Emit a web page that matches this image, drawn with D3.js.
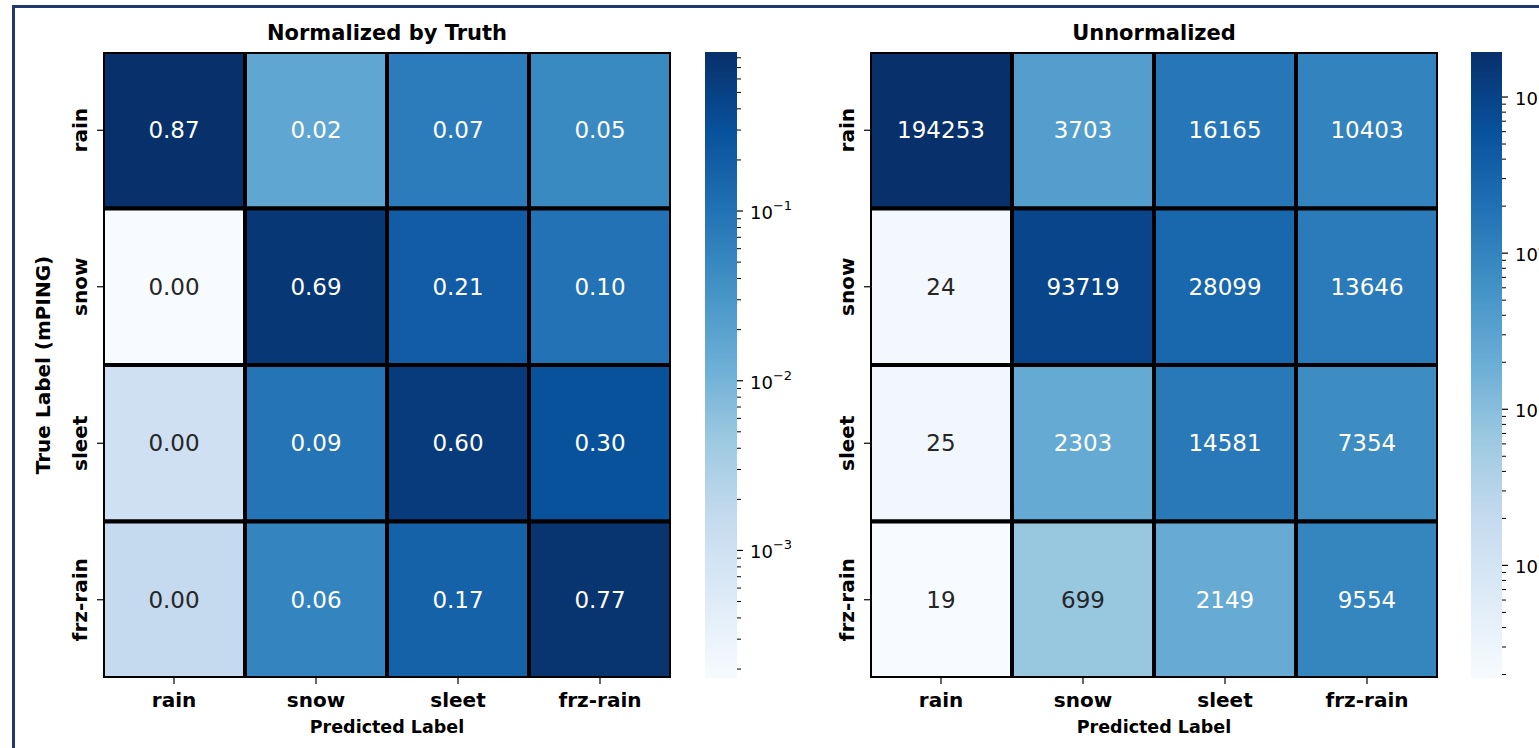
<!DOCTYPE html>
<html>
<head>
<meta charset="utf-8">
<script src="https://cdn.jsdelivr.net/npm/d3@7"></script>
<style>
  html, body { margin: 0; padding: 0; background: #ffffff; }
  svg { display: block; }
  text { font-family: "DejaVu Sans", sans-serif; }
</style>
</head>
<body>
<svg id="chart" width="1539" height="748"></svg>
<script>
// Precipitation-type confusion matrices (rows: true mPING label, columns: predicted label)
const categories = ["rain", "snow", "sleet", "frz-rain"];

// Raw counts per true class
const rainCounts    = [194253, 3703, 16165, 10403];
const snowCounts    = [24, 93719, 28099, 13646];
const sleetCounts   = [25, 2303, 14581, 7354];
const frzRainCounts = [19, 699, 2149, 9554];

// Colorbar tick values (decades)
const normTicks  = [1e-3, 1e-2, 1e-1];
const countTicks = [1e2, 1e3, 1e4, 1e5];

const panelTitles = ["Normalized by Truth", "Unnormalized"];
const xAxisTitle = "Predicted Label";
const yAxisTitle = "True Label (mPING)";

// matplotlib "Blues" anchor colours, linearly interpolated
const bluesAnchors = ["#f7fbff", "#deebf7", "#c6dbef", "#9ecae1", "#6baed6",
                      "#4292c6", "#2171b5", "#08519c", "#08306b"];
const blues = d3.piecewise(d3.interpolateRgb, bluesAnchors);

const countMatrix = [rainCounts, snowCounts, sleetCounts, frzRainCounts];
// Row-normalise: fraction of each true class assigned to each prediction
const normMatrix = countMatrix.map(row => {
  const s = d3.sum(row);
  return row.map(v => v / s);
});

const svg = d3.select("#chart");

// outer frame (runs off the right and bottom edges)
svg.append("path")
  .attr("d", "M13.5,748 L13.5,6.5 L1539,6.5")
  .attr("fill", "none")
  .attr("stroke", "#1f3a6b")
  .attr("stroke-width", 3);

// seaborn-style annotation colour from relative luminance
function relLum(c) {
  const rgb = d3.rgb(c);
  const f = v => { v /= 255; return v <= 0.03928 ? v / 12.92 : Math.pow((v + 0.055) / 1.055, 2.4); };
  return 0.2126 * f(rgb.r) + 0.7152 * f(rgb.g) + 0.0722 * f(rgb.b);
}

const plotTop = 52, plotBottom = 678;

function drawPanel(cfg) {
  const { matrix, x0, x1, cbX, cbW, ticks, fmt, title, showYTitle, id } = cfg;
  const flat = matrix.flat();
  const vmin = d3.min(flat), vmax = d3.max(flat);

  const x = d3.scaleBand().domain(categories).range([x0, x1]);
  const y = d3.scaleBand().domain(categories).range([plotTop, plotBottom]);
  const norm = d3.scaleLog().domain([vmin, vmax]).range([0, 1]).clamp(true);
  const color = v => blues(norm(v));

  const g = svg.append("g");

  // clip so the outer grid line shows half its width
  g.append("clipPath").attr("id", "clip-" + id)
    .append("rect").attr("x", x0).attr("y", plotTop).attr("width", x1 - x0).attr("height", plotBottom - plotTop);

  const cells = [];
  matrix.forEach((row, i) => row.forEach((v, j) => cells.push({ r: categories[i], c: categories[j], v })));

  const cg = g.append("g").attr("clip-path", `url(#clip-${id})`);
  cg.selectAll("rect").data(cells).join("rect")
    .attr("x", d => x(d.c))
    .attr("y", d => y(d.r))
    .attr("width", x.bandwidth())
    .attr("height", y.bandwidth())
    .attr("fill", d => color(d.v))
    .attr("stroke", "#000")
    .attr("stroke-width", 4);

  g.selectAll("text.annot").data(cells).join("text")
    .attr("class", "annot")
    .attr("x", d => x(d.c) + x.bandwidth() / 2)
    .attr("y", d => y(d.r) + y.bandwidth() / 2)
    .attr("text-anchor", "middle")
    .attr("dominant-baseline", "central")
    .attr("font-size", 23)
    .attr("fill", d => relLum(color(d.v)) > 0.408 ? "#262626" : "#ffffff")
    .text(d => fmt(d.v));

  // x axis
  const xAxis = g.append("g").attr("transform", `translate(0,${plotBottom})`)
    .call(d3.axisBottom(x).tickSize(6).tickPadding(8));
  xAxis.select(".domain").remove();
  xAxis.selectAll("line").attr("stroke", "#000").attr("stroke-width", 1.2);
  xAxis.selectAll("text")
    .attr("font-family", "DejaVu Sans").attr("font-size", 20).attr("font-weight", "bold")
    .attr("fill", "#000").attr("dy", null).attr("y", 29);

  // y axis
  const yAxis = g.append("g").attr("transform", `translate(${x0},0)`)
    .call(d3.axisLeft(y).tickSize(6).tickPadding(8));
  yAxis.select(".domain").remove();
  yAxis.selectAll("line").attr("stroke", "#000").attr("stroke-width", 1.2);
  yAxis.selectAll("text")
    .attr("font-family", "DejaVu Sans").attr("font-size", 20).attr("font-weight", "bold")
    .attr("fill", "#000")
    .attr("x", null).attr("dy", null)
    .attr("text-anchor", "middle")
    .attr("transform", "translate(-16,0) rotate(-90)");

  // titles
  g.append("text")
    .attr("x", (x0 + x1) / 2).attr("y", 40)
    .attr("text-anchor", "middle")
    .attr("font-size", 21).attr("font-weight", "bold")
    .text(title);

  g.append("text")
    .attr("x", (x0 + x1) / 2).attr("y", 733)
    .attr("text-anchor", "middle")
    .attr("font-size", 17.5).attr("font-weight", "bold")
    .text(xAxisTitle);

  if (showYTitle) {
    g.append("text")
      .attr("transform", `translate(50,${(plotTop + plotBottom) / 2}) rotate(-90)`)
      .attr("text-anchor", "middle")
      .attr("font-family", "Liberation Sans, Arial, sans-serif")
      .attr("font-size", 20).attr("font-weight", "bold")
      .text(yAxisTitle);
  }

  // colorbar
  const gradId = "grad-" + id;
  const grad = svg.append("defs").append("linearGradient")
    .attr("id", gradId).attr("x1", 0).attr("y1", 1).attr("x2", 0).attr("y2", 0);
  bluesAnchors.forEach((c, k) => {
    grad.append("stop").attr("offset", k / (bluesAnchors.length - 1)).attr("stop-color", c);
  });
  g.append("rect")
    .attr("x", cbX).attr("y", plotTop).attr("width", cbW).attr("height", plotBottom - plotTop)
    .attr("fill", `url(#${gradId})`);

  const cbScale = d3.scaleLog().domain([vmin, vmax]).range([plotBottom, plotTop]);
  const lo = Math.floor(Math.log10(vmin)), hi = Math.ceil(Math.log10(vmax));
  const minor = [];
  for (let e = lo; e <= hi; e++) {
    for (let m = 2; m <= 9; m++) {
      const v = m * Math.pow(10, e);
      if (v >= vmin && v <= vmax) minor.push(v);
    }
  }
  const cb = g.append("g");
  cb.selectAll("line.minor").data(minor).join("line")
    .attr("class", "minor")
    .attr("x1", cbX + cbW).attr("x2", cbX + cbW + 4)
    .attr("y1", d => cbScale(d)).attr("y2", d => cbScale(d))
    .attr("stroke", "#000").attr("stroke-width", 1);
  cb.selectAll("line.major").data(ticks).join("line")
    .attr("class", "major")
    .attr("x1", cbX + cbW).attr("x2", cbX + cbW + 6)
    .attr("y1", d => cbScale(d)).attr("y2", d => cbScale(d))
    .attr("stroke", "#000").attr("stroke-width", 1.2);
  const lbl = cb.selectAll("text.cbl").data(ticks).join("text")
    .attr("class", "cbl")
    .attr("x", cbX + cbW + 13)
    .attr("y", d => cbScale(d) + 8)
    .attr("font-size", 18)
    .attr("fill", "#000");
  lbl.append("tspan").text("10");
  lbl.append("tspan")
    .attr("font-size", 13)
    .attr("dy", -9)
    .text(d => { const e = Math.round(Math.log10(d)); return e < 0 ? "\u2212" + (-e) : String(e); });
}

drawPanel({
  id: "norm", matrix: normMatrix, x0: 103, x1: 671, cbX: 705, cbW: 32,
  ticks: normTicks, fmt: d3.format(".2f"), title: panelTitles[0], showYTitle: true
});
drawPanel({
  id: "count", matrix: countMatrix, x0: 870, x1: 1438, cbX: 1471, cbW: 31,
  ticks: countTicks, fmt: d3.format("d"), title: panelTitles[1], showYTitle: false
});
</script>
</body>
</html>
